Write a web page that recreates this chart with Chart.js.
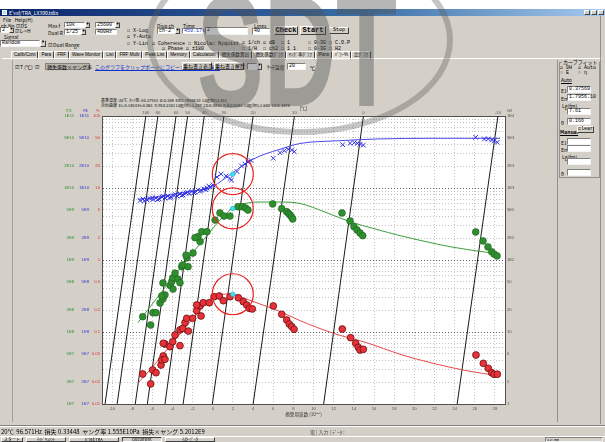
<!DOCTYPE html>
<html lang="ja">
<head>
<meta charset="utf-8">
<title>E'vsf</title>
<script src="https://cdn.jsdelivr.net/npm/chart.js@4.4.1/dist/chart.umd.min.js"></script>
<style>
  html, body { margin: 0; padding: 0; }
  body { width: 605px; height: 442px; overflow: hidden; position: relative; background: #d4d0c8;
         font-family: "Noto Sans CJK JP", "Liberation Sans", sans-serif; font-size: 5px; color: #000; }
  .el { position: absolute; white-space: nowrap; line-height: 1; box-sizing: border-box; }
  .box { background: #fff; border: 1px solid; border-color: #808080 #f4f4f4 #f4f4f4 #808080; padding: 0 1px; font-family: "Liberation Mono", monospace; }
  .btn { background: #d4d0c8; border: 1px solid; border-color: #fff #404040 #404040 #fff; text-align: center; }
  .arr { background: #d4d0c8; border: 1px solid; border-color: #fff #404040 #404040 #fff; font-size: 3px; text-align: center; }
  .tabs { display: flex; }
  .tabs div { border: 1px solid; border-color: #fff #404040 transparent #fff; padding: 0 2px; height: 7px; font-family: "Liberation Sans", "Noto Sans CJK JP"; font-size: 4.6px; line-height: 6px; }
  .mono { font-family: "Liberation Mono", "Noto Sans CJK JP", monospace; }
  #plotWrap { position: absolute; left: 50px; top: 94px; width: 490px; height: 332px; }
</style>
</head>
<body>
<!-- window chrome -->
<div class="el" style="left:0;top:0;width:605px;height:9px;background:#fff"></div>
<div class="el" style="left:0;top:9px;width:605px;height:7px;background:linear-gradient(to right,#0a246a,#3a6ea5 60%,#a6caf0)"></div>
<div class="el" style="left:2px;top:10px;width:5px;height:5px;background:#c0d8f0;border:1px solid #fff"></div>
<div class="el" style="left:9px;top:10px;color:#fff;font-size:5px">E'vsf/TRA_LX300.tdla</div>
<div class="el btn" style="left:584px;top:10px;width:6px;height:5px"></div>
<div class="el btn" style="left:591px;top:10px;width:6px;height:5px"></div>
<div class="el btn" style="left:598px;top:10px;width:6px;height:5px"></div>
<div class="el" style="left:3px;top:17px">File&nbsp;&nbsp; Help(H)</div>

<!-- control strip -->
<div class="el" style="left:1px;top:23px">ch.No ☑ DS</div>
<div class="el box" style="left:0;top:27px;width:9px;height:6px">2</div>
<div class="el arr" style="left:9px;top:27px;width:5px;height:6px">▼</div>
<div class="el" style="left:15px;top:28px">☑ L-&gt;H</div>
<div class="el" style="left:4px;top:34px">Signal</div>
<div class="el box" style="left:0;top:40px;width:40px;height:7px">Random</div>
<div class="el arr" style="left:40px;top:40px;width:6px;height:7px">▼</div>
<div class="el" style="left:48px;top:23px">Max f</div>
<div class="el box" style="left:64px;top:22px;width:21px;height:6px">10k</div>
<div class="el arr" style="left:85px;top:22px;width:5px;height:6px">▼</div>
<div class="el" style="left:48px;top:30px">Dual R</div>
<div class="el box" style="left:64px;top:29px;width:17px;height:6px">1/25</div>
<div class="el arr" style="left:81px;top:29px;width:5px;height:6px">▼</div>
<div class="el box" style="left:95px;top:22px;width:20px;height:6px">25600</div>
<div class="el arr" style="left:115px;top:22px;width:5px;height:6px">▼</div>
<div class="el box" style="left:95px;top:29px;width:22px;height:6px">400Hz</div>
<div class="el" style="left:48px;top:42px">☑ Dual Range</div>
<div class="el mono" style="left:127px;top:29px">☐ X-Log</div>
<div class="el mono" style="left:127px;top:35px">☑ Y-Auto</div>
<div class="el mono" style="left:127px;top:42px">☐ Y-Lin</div>
<div class="el mono" style="left:152px;top:42px">☑ Coherence</div>
<div class="el mono" style="left:162px;top:47px">☑ Phase</div>
<div class="el mono" style="left:186px;top:47px">☑ ±180</div>
<div class="el mono" style="left:188px;top:42px">☐ Nicola</div>
<div class="el mono" style="left:212px;top:42px">☐ Nyquist</div>
<div class="el" style="left:157px;top:23px">Disp ch</div>
<div class="el box" style="left:157px;top:28px;width:18px;height:6px">ch-2</div>
<div class="el arr" style="left:175px;top:28px;width:5px;height:6px">▼</div>
<div class="el" style="left:183px;top:23px">Time</div>
<div class="el box" style="left:182px;top:28px;width:21px;height:6px;color:#2030c0">459.17s</div>
<div class="el box" style="left:205px;top:27px;width:43px;height:8px">2</div>
<div class="el" style="left:254px;top:23px">Lines</div>
<div class="el box" style="left:252px;top:28px;width:18px;height:7px">40</div>
<div class="el btn mono" style="left:274px;top:26px;width:24px;height:9px;font-size:7px;font-weight:bold;line-height:7px">Check</div>
<div class="el btn mono" style="left:300px;top:26px;width:26px;height:9px;font-size:7px;font-weight:bold;line-height:7px">Start</div>
<div class="el btn mono" style="left:329px;top:27px;width:20px;height:7px;line-height:5px">Stop</div>
<div class="el mono" style="left:242px;top:41px">☑ 1/ch ☑ dB&nbsp; ☐ 1</div>
<div class="el mono" style="left:242px;top:47px">☐ 1/H&nbsp; ☐ ch2 ☐ 1 1</div>
<div class="el mono" style="left:308px;top:41px">☐ 0-3G ☐ C.O.P</div>
<div class="el mono" style="left:308px;top:47px">☐ 0-3G ☐ H2</div>

<!-- tabs -->
<div class="el tabs" style="left:11px;top:51px">
  <div>Calib/Cont</div><div>Para</div><div>FRF</div><div>Wave Monitor</div><div>List</div><div>FRF Multi</div>
  <div>Peak List</div><div>Memory</div><div>Calculation</div><div>損失係数算出</div><div>損失係数ｸﾞﾗﾌ</div>
  <div>ﾔﾝｸﾞ率ｸﾞﾗﾌ</div><div>/Para</div><div style="background:#e4e0d8">ﾊﾟﾜｰ%</div><div>比ｸﾞﾗﾌ</div>
</div>
<div class="el" style="left:2px;top:58px;width:600px;height:1px;background:#fff"></div>
<div class="el" style="left:12px;top:60px;width:1px;height:362px;background:#a0a0a0"></div>

<!-- graph toolbar -->
<div class="el" style="left:15px;top:64px">☑ T (℃)&nbsp; ☑</div>
<div class="el" style="left:45px;top:63px;width:45px;height:7px;background:#b8b4ac;border:1px solid #808080;line-height:5px;padding-left:1px">損失係数×ヤング率</div>
<div class="el" style="left:95px;top:64px;color:#1030d0;text-decoration:underline">このグラフをクリップボードにコピーするときﾃﾞｰﾀ編集</div>
<div class="el btn" style="left:182px;top:62px;width:30px;height:8px;line-height:6px">重ね書き表示</div>
<div class="el btn" style="left:214px;top:62px;width:30px;height:8px;line-height:6px">重ね書き解除</div>
<div class="el box" style="left:247px;top:63px;width:10px;height:7px"></div>
<div class="el arr" style="left:257px;top:63px;width:5px;height:7px">▼</div>
<div class="el" style="left:267px;top:64px">ｻｰﾁ温度</div>
<div class="el box" style="left:287px;top:63px;width:19px;height:7px">20</div>
<div class="el" style="left:310px;top:65px">℃</div>

<!-- curve fit panel -->
<div class="el" style="left:557px;top:60px;width:1px;height:362px;background:#909090"></div>
<div class="el" style="left:600px;top:16px;width:1px;height:408px;background:#909090"></div>
<div class="el" style="left:559px;top:62px;width:41px;height:116px;border:1px solid #909090"></div>
<div class="el" style="left:562px;top:59px;background:#d4d0c8;padding:0 1px">カーブフィット</div>
<div class="el mono" style="left:560px;top:66px">☑ 0H&nbsp; ☑ Auto</div>
<div class="el mono" style="left:560px;top:71px">○ E&nbsp;&nbsp; ○ η</div>
<div class="el" style="left:561px;top:77px;text-decoration:underline">Auto</div>
<div class="el" style="left:561px;top:88px">E1</div><div class="el box" style="left:567px;top:86px;width:24px;height:7px">0.37569</div>
<div class="el" style="left:561px;top:96px">Em</div><div class="el box" style="left:567px;top:94px;width:24px;height:7px">1.7956.10</div>
<div class="el" style="left:562px;top:103px">Lg(fm)</div><div class="el box" style="left:567px;top:108px;width:24px;height:7px">7.61</div>
<div class="el" style="left:561px;top:120px">θ</div><div class="el box" style="left:567px;top:118px;width:24px;height:7px">0.166</div>
<div class="el" style="left:560px;top:129px;font-weight:bold;text-decoration:underline">Manual</div>
<div class="el btn mono" style="left:577px;top:126px;width:17px;height:7px;line-height:5px">clear</div>
<div class="el" style="left:561px;top:140px">E1</div><div class="el box" style="left:567px;top:138px;width:24px;height:7px"></div>
<div class="el" style="left:561px;top:147px">Em</div><div class="el box" style="left:567px;top:145px;width:24px;height:7px"></div>
<div class="el" style="left:562px;top:154px">Lg(fm)</div><div class="el box" style="left:567px;top:158px;width:24px;height:7px"></div>
<div class="el" style="left:561px;top:171px">θ</div><div class="el box" style="left:567px;top:169px;width:24px;height:7px"></div>

<!-- graph header -->
<div class="el" style="left:101px;top:98px;font-size:4px">基準温度 :20℃&nbsp; ｶｯﾄ型: E0.27553&nbsp; D:0.169&nbsp; Em1.7956E10&nbsp; Log(fm)3.813</div>
<div class="el" style="left:101px;top:103px;font-size:4px">近似曲線&nbsp; EL:0.140 EH=0.061&nbsp; n.m:0.2301 Log(fm):1.247&nbsp; C0:0.8833&nbsp; n.k:0.0383&nbsp; Log(fm):1.640&nbsp; C0:0.3874</div>
<div class="el" style="left:66px;top:108px;font-size:4px;color:#2e8b2e">η'E</div>
<div class="el" style="left:83px;top:108px;font-size:4px;color:#3030d0">Pa</div>
<div class="el" style="left:96px;top:108px;font-size:4px;color:#e03030">%</div>
<div class="el" style="left:507px;top:108px;font-size:4px;color:#444">Hz</div>

<div id="plotWrap"><canvas id="nomo" width="490" height="332"></canvas></div>

<!-- status bar and taskbar -->
<div class="el" style="left:0;top:425px;width:605px;height:1px;background:#808080"></div>
<div class="el" style="left:0;top:426px;width:605px;height:1px;background:#fff"></div>
<div class="el" style="left:1px;top:429px;font-size:6px">20℃&nbsp; 96.571Hz&nbsp; 損失 0.33448&nbsp; ヤング率 1.555E10Pa&nbsp; 損失×ヤング 5.2012E9</div>
<div class="el" style="left:310px;top:429px;font-size:5px;color:#555">電 | 入力 | ﾃﾞｰﾀ :</div>
<div class="el" style="left:0;top:436px;width:605px;height:6px;background:#d4d0c8;border-top:1px solid #fff"></div>
<div class="el btn" style="left:1px;top:437px;width:22px;height:5px;font-size:4px;line-height:3px">スタート</div>
<div class="el btn" style="left:26px;top:437px;width:40px;height:5px;font-size:4px;line-height:3px">ﾏｲﾄﾞｷｭﾒﾝﾄ</div>
<div class="el btn" style="left:69px;top:437px;width:50px;height:5px;font-size:4px;line-height:3px">E'vsf/TRA</div>
<div class="el btn" style="left:122px;top:437px;width:40px;height:5px;font-size:4px;line-height:3px;border-color:#404040 #fff #fff #404040">Document</div>
<div class="el btn" style="left:165px;top:437px;width:50px;height:5px;font-size:4px;line-height:3px">ﾏｽﾀｰﾃﾞｰﾀ</div>
<div class="el box" style="left:545px;top:437px;width:58px;height:5px;font-size:4px;background:#d4d0c8">12:00</div>

<!-- watermark -->
<svg class="el" style="left:0;top:0;pointer-events:none" width="605" height="442">
  <ellipse cx="300" cy="40" rx="150" ry="92" fill="none" stroke="rgba(90,90,90,0.35)" stroke-width="6"/>
  <text x="197" y="106" font-family="Liberation Sans" font-weight="bold" font-size="160" textLength="200"
        lengthAdjust="spacingAndGlyphs" fill="rgba(80,80,80,0.42)">SDT</text>
</svg>

<script>
// isotherms: temperature (top axis label) and where each line meets the bottom / top of the plot (log10 reduced freq.)
const isoTemps = [100, 80, 60, 50, 40, 30, 20, 10, 0, -10];
const isoBottomX = [-10.7, -9.5, -7.7, -6.5, -4.75, -2.95, -0.05, 4.0, 11.0, 24.25];
const isoTopX = [-6.65, -5.45, -3.65, -2.5, -0.85, 1.1, 4.0, 8.1, 14.95, 28.3];

const xTicks = [-10, -8, -6, -4, -2, 0, 2, 4, 6, 8, 10, 12, 14, 16, 18, 20, 22, 24, 26, 28];
const decades = [0.01, 0.1, 1, 10];
const gridSteps = [1, 2, 3, 4, 5, 6, 7, 8, 9];
const labelSteps = [1, 2, 5];

// storage modulus E' (x 1E9 Pa), blue crosses
const ePrimeX = [-7.23, -6.93, -6.8, -6.53, -6.24, -6.0, -5.94, -5.64, -5.5, -5.34, -5.04, -4.9, -4.75, -4.45, -4.3,
  -4.15, -3.85, -3.7, -3.56, -3.26, -3.1, -2.96, -2.66, -2.5, -2.36, -2.07, -1.9, -1.77, -1.47, -1.3, -1.17, -0.88,
  -0.7, -0.58, -0.4, -0.28, 0.02, 0.41, 0.81, 1.31, 1.70, 1.85, 2.40, 2.85, 3.19, 3.49, 3.79,
  6.0, 6.67, 7.09, 7.49, 7.83, 8.09, 12.89, 13.62, 14.04, 14.34, 14.61, 14.94,
  26.09, 26.95, 27.34, 27.68, 27.94, 28.24];
const ePrimeY = [6.70, 7.03, 6.6, 6.81, 7.14, 7.3, 6.92, 7.26, 6.9, 7.03, 7.50, 7.7, 7.26, 7.74, 7.3,
  7.50, 7.87, 8.1, 7.74, 8.25, 7.9, 8.0, 8.52, 8.7, 8.39, 8.94, 8.6, 8.80, 9.38, 9.0, 9.23, 9.68,
  9.5, 10.0, 10.6, 10.3, 11.0, 14.2, 15.6, 14.7, 13.5, 12.9, 16.9, 20.2, 21.5, 22.9, 24.1,
  25.9, 30.9, 33.0, 34.5, 33.7, 31.9, 39.9, 41.8, 42.6, 41.8, 40.5, 39.5,
  50.6, 48.0, 48.0, 46.4, 45.0, 43.2];

// loss modulus E'' (x 1E9 Pa), green dots
const eLossX = [-6.96, -6.17, -5.94, -5.64, -5.24, -4.95, -4.75, -5.07, -4.95, -4.24, -4.08, -3.98, -3.75, -3.46,
  -3.26, -3.95, -3.09, -2.99, -2.46, -2.56, -2.66, -1.97, -1.27, -1.47, -1.10, -0.58, -1.77, 0.22, 0.71, 1.11, 1.70,
  2.50, 2.97, 3.26, 3.49, 5.94, 6.84, 7.33, 7.51, 7.66, 7.81, 7.93, 12.82, 13.62, 14.01, 14.31, 14.61, 14.88,
  26.09, 26.82, 27.31, 27.68, 27.91, 28.21];
const eLossY = [0.163, 0.125, 0.185, 0.185, 0.253, 0.287, 0.327, 0.316, 0.48, 0.443, 0.50, 0.562, 0.659, 0.544,
  0.484, 0.395, 0.807, 0.853, 0.807, 1.07, 1.17, 1.25, 1.80, 2.11, 2.47, 2.47, 2.04, 3.59, 4.50, 4.08, 4.08,
  5.49, 5.49, 5.27, 4.95, 6.0, 5.17, 4.69, 4.45, 4.22, 3.98, 3.71, 4.50, 3.48, 2.90, 2.61, 2.37, 2.18,
  2.45, 1.84, 1.52, 1.30, 1.21, 1.14];

// loss factor tan d, red dots
const tanX = [-6.96, -6.17, -5.97, -5.64, -5.14, -4.92, -5.07, -4.75, -4.75, -4.92, -4.25, -3.98, -3.26, -3.75,
  -3.26, -2.99, -2.43, -2.76, -2.59, -2.0, -1.17, -1.60, -1.27, -0.95, -1.60, -0.35, 0.12, 0.64, 1.04, 1.70,
  2.53, 3.02, 3.36, 3.62, 3.92, 6.0, 6.84, 7.33, 7.59, 7.83, 8.06, 12.85, 13.68, 14.18, 14.44, 14.61, 14.94,
  26.12, 26.85, 27.34, 27.68, 27.91, 28.24];
const tanY = [0.0261, 0.0190, 0.0297, 0.0272, 0.0348, 0.0464, 0.0409, 0.0418, 0.0681, 0.0697, 0.0625, 0.0733,
  0.0646, 0.0908, 0.107, 0.112, 0.103, 0.135, 0.155, 0.155, 0.167, 0.198, 0.230, 0.255, 0.237, 0.255, 0.309,
  0.316, 0.272, 0.309, 0.299, 0.264, 0.237, 0.213, 0.209, 0.230, 0.176, 0.147, 0.129, 0.119, 0.109, 0.110,
  0.0834, 0.0697, 0.0613, 0.0562, 0.0575, 0.0479, 0.0367, 0.0313, 0.0272, 0.0259, 0.0259];

// fitted curves
const ePrimeFitX = [-7.43, -6.24, -5.24, -4.25, -3.26, -2.27, -1.27, -0.28, 0.71, 1.90, 2.99, 3.99, 5.18, 6.67, 8.65, 12.62, 16.39, 21.85, 28.50];
const ePrimeFitY = [6.97, 7.26, 7.62, 8.0, 8.52, 8.94, 9.38, 10.0, 12.1, 16.0, 20.5, 25.1, 29.6, 34.5, 41.5, 45.4, 48.0, 49.0, 49.0];
const eLossFitX = [-7.43, -6.24, -5.24, -4.25, -3.26, -2.27, -1.27, -0.28, 0.71, 1.90, 2.99, 4.68, 6.67, 8.65, 11.13, 13.62, 16.10, 18.58, 21.06, 23.54, 26.82, 28.50];
const eLossFitY = [0.135, 0.222, 0.337, 0.511, 0.762, 1.14, 1.67, 2.45, 3.59, 5.19, 6.0, 6.39, 6.39, 6.10, 4.64, 3.40, 2.70, 2.18, 1.81, 1.53, 1.30, 1.21];
const tanFitX = [-7.40, -6.24, -5.24, -4.25, -3.26, -2.27, -1.27, -0.28, 0.71, 1.90, 3.19, 4.68, 6.67, 8.65, 11.96, 15.27, 18.58, 21.88, 25.20, 28.50];
const tanFitY = [0.0198, 0.0297, 0.0436, 0.064, 0.0938, 0.138, 0.202, 0.287, 0.332, 0.337, 0.292, 0.245, 0.193, 0.144, 0.096, 0.071, 0.049, 0.0367, 0.029, 0.0245];

// cursor at 20℃ / 96.571Hz
const cursorX = [1.98, 1.98, 1.98];
const cursorY = [15.55, 5.2012, 0.33448];

const yTickValues = decades.flatMap(d => gridSteps.map(m => Number((m * d).toPrecision(2)))).concat([100]);

const pts = (xs, ys) => xs.map((x, i) => ({ x, y: ys[i] }));
const expOf = (v) => Math.floor(Math.log10(v) + 1e-9);
const mantOf = (v) => Math.round(v / Math.pow(10, expOf(v)));
const isLabelled = (v) => labelSteps.includes(mantOf(v));
const sci = (v) => `${mantOf(v)}E${expOf(v)}`;
const isDecade = (v) => mantOf(v) === 1;

const tickFont = { family: 'Liberation Sans', size: 4.2 };

const setYTicks = (scale) => { scale.ticks = yTickValues.map(v => ({ value: v })); };

const leftAxis = (color, weight, width, fmt) => ({
    type: 'logarithmic', position: 'left', min: 0.01, max: 100, weight,
    afterBuildTicks: setYTicks,
    afterFit: (s) => { s.width = width; },
    grid: { display: false, drawTicks: false },
    border: { display: false },
    ticks: { autoSkip: false, padding: 2, color, font: tickFont, callback: (v) => isLabelled(v) ? fmt(v) : '' }
});

const plotBg = {
    id: 'plotBg',
    beforeDraw(chart) {
        const { ctx, chartArea: a } = chart;
        ctx.save();
        ctx.fillStyle = '#ffffff';
        ctx.fillRect(a.left, a.top, a.width, a.height);
        ctx.restore();
    }
};

const isoSets = isoTemps.map((t, i) => ({
    label: `${t}℃`,
    data: [{ x: isoBottomX[i], y: 0.01 }, { x: isoTopX[i], y: 100 }],
    showLine: true, borderColor: '#1a1a1a', borderWidth: 1, pointRadius: 0, order: 8,
    xAxisID: 'x', yAxisID: 'yR'
}));

const fitSet = (xs, ys, color) => ({
    data: pts(xs, ys), showLine: true, borderColor: color, borderWidth: 1, pointRadius: 0,
    cubicInterpolationMode: 'monotone', order: 6, xAxisID: 'x', yAxisID: 'yR'
});

new Chart(document.getElementById('nomo'), {
    type: 'scatter',
    data: {
        datasets: [
            { label: 'cursor ring', data: pts(cursorX, cursorY), pointRadius: 20.5, pointBackgroundColor: 'rgba(0,0,0,0)',
              pointBorderColor: '#ee2020', pointBorderWidth: 1.2, order: 0, xAxisID: 'x', yAxisID: 'yR' },
            { label: 'cursor', data: pts(cursorX, cursorY), pointRadius: 2.3, pointBackgroundColor: '#38e4f4',
              pointBorderColor: '#20a8c0', pointBorderWidth: 0.6, order: 1, xAxisID: 'x', yAxisID: 'yR' },
            { label: "E'", data: pts(ePrimeX, ePrimeY), pointStyle: 'crossRot', pointRadius: 3.3,
              pointBorderColor: '#3434e6', pointBorderWidth: 1, order: 2, xAxisID: 'x', yAxisID: 'yR' },
            { label: "E''", data: pts(eLossX, eLossY), pointRadius: 3.4, pointBackgroundColor: '#2f8f2f',
              pointBorderColor: '#1f601f', pointBorderWidth: 0.6, order: 3, xAxisID: 'x', yAxisID: 'yR' },
            { label: 'tan', data: pts(tanX, tanY), pointRadius: 3.4, pointBackgroundColor: '#e8323a',
              pointBorderColor: '#6a1010', pointBorderWidth: 0.8, order: 4, xAxisID: 'x', yAxisID: 'yR' },
            fitSet(ePrimeFitX, ePrimeFitY, '#4a4ae8'),
            fitSet(eLossFitX, eLossFitY, '#3e9e3e'),
            fitSet(tanFitX, tanFitY, '#e84a4a'),
            ...isoSets
        ]
    },
    options: {
        responsive: false,
        animation: false,
        devicePixelRatio: 1,
        layout: { padding: { left: 10, right: 10, top: 0, bottom: 0 } },
        plugins: { legend: { display: false }, tooltip: { enabled: false } },
        scales: {
            x: {
                type: 'linear', position: 'bottom', min: -11, max: 29,
                afterBuildTicks: (s) => { s.ticks = xTicks.map(v => ({ value: v })); },
                afterFit: (s) => { s.height = 22; },
                grid: { color: '#c4c4c4', lineWidth: 1, drawTicks: false },
                border: { display: true, color: '#505050', dash: [1, 2] },
                ticks: { autoSkip: false, maxRotation: 0, padding: 2, color: '#555', font: tickFont },
                title: { display: true, text: '換算周波数 (10**)', color: '#333', font: { family: 'Noto Sans CJK JP', size: 4.6 }, padding: { top: 0, bottom: 9 } }
            },
            xT: {
                type: 'linear', position: 'top', min: -11, max: 29,
                afterBuildTicks: (s) => { s.ticks = isoTopX.map(v => ({ value: v })); },
                afterFit: (s) => { s.height = 22; },
                grid: { drawOnChartArea: false, drawTicks: false },
                border: { display: true, color: '#505050' },
                ticks: { autoSkip: false, maxRotation: 0, padding: 1, color: '#555', font: tickFont,
                         callback: (v, i) => String(isoTemps[i]) },
                title: { display: true, text: '[℃]', color: '#333', font: { family: 'Noto Sans CJK JP', size: 4.6 }, padding: { top: 11, bottom: 0 } }
            },
            yG: leftAxis('#2e8b2e', 2, 16, (v) => sci(v * 1e9)),
            yB: leftAxis('#3434d0', 1, 15, (v) => sci(v * 1e9)),
            yR: {
                type: 'logarithmic', position: 'left', min: 0.01, max: 100, weight: 0,
                afterBuildTicks: setYTicks,
                afterFit: (s) => { s.width = 11; },
                grid: { drawTicks: false, lineWidth: 1, color: (c) => (c.tick && isDecade(c.tick.value)) ? '#5a5a5a' : '#c4c4c4' },
                border: { display: true, color: '#505050', dash: [1, 2] },
                ticks: { autoSkip: false, padding: 2, color: '#e03030', font: tickFont,
                         callback: (v) => isLabelled(v) ? String(v) : '' }
            },
            yHz: {
                type: 'logarithmic', position: 'right', min: 0.01, max: 100,
                afterBuildTicks: setYTicks,
                afterFit: (s) => { s.width = 25; },
                grid: { drawOnChartArea: false, drawTicks: false },
                border: { display: true, color: '#505050' },
                ticks: { autoSkip: false, padding: 2, color: '#555', font: tickFont,
                         callback: (v) => { if (!isLabelled(v)) return ''; const hz = v * 100; return hz >= 100 ? sci(hz) : String(Math.round(hz)); } }
            }
        }
    },
    plugins: [plotBg]
});
</script>
</body>
</html>
